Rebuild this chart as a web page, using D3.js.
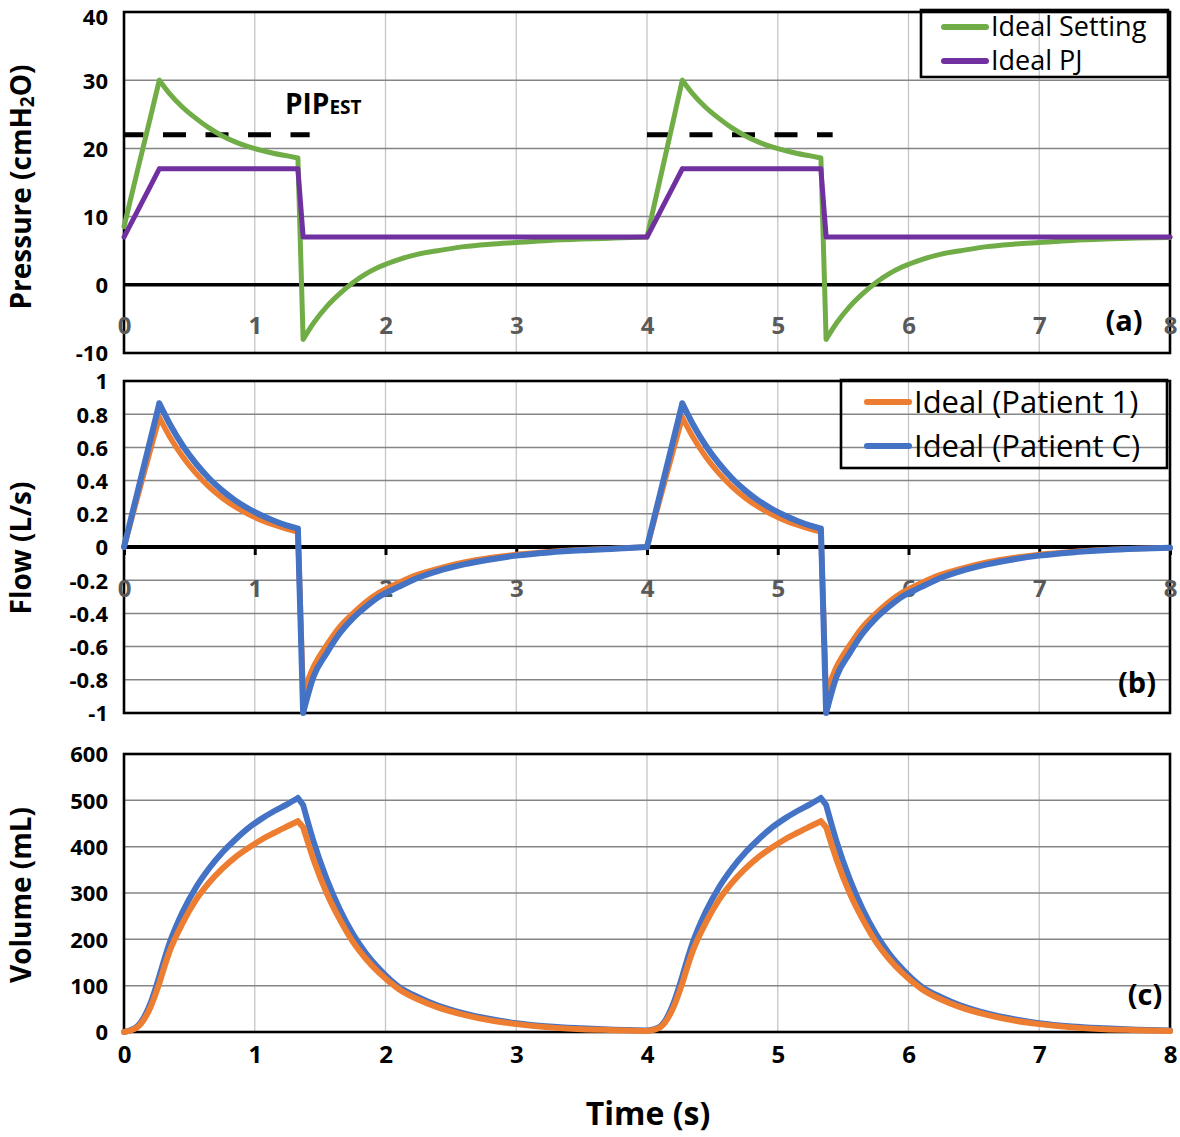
<!DOCTYPE html>
<html><head><meta charset="utf-8">
<script src="https://cdn.jsdelivr.net/npm/d3@7"></script>
<style>
body{margin:0;background:#fff;}
svg{display:block;font-family:"Open Sans",sans-serif;}
</style>
</head><body>
<svg id="chart" width="1180" height="1137"></svg>
<script>
// ---- data ----
const time = [0,0.1,0.2,0.27,0.35,0.45,0.55,0.65,0.75,0.85,0.95,1.05,1.15,1.25,1.33,1.37,1.45,1.55,1.65,1.75,1.85,1.95,2.1,2.25,2.4,2.6,2.8,3.0,3.25,3.5,3.75,
              4,4.1,4.2,4.27,4.35,4.45,4.55,4.65,4.75,4.85,4.95,5.05,5.15,5.25,5.33,5.37,5.45,5.55,5.65,5.75,5.85,5.95,6.1,6.25,6.4,6.6,6.8,7.0,7.25,7.5,7.75,
              8];
const pressureSetting = [8.5,16.5,24.4,30,28.0,26.0,24.4,23.0,21.85,20.95,20.25,19.7,19.25,18.9,18.6,-8,-5.6,-3.2,-1.3,0.3,1.6,2.6,3.7,4.5,5.0,5.6,5.95,6.2,6.5,6.7,6.85,
              7,15.5,24.0,30,28.0,26.0,24.4,23.0,21.85,20.95,20.25,19.7,19.25,18.9,18.6,-8,-5.6,-3.2,-1.3,0.3,1.6,2.6,3.7,4.5,5.0,5.6,5.95,6.2,6.5,6.7,6.85,
              6.95];
const pressurePJ = [7,10.7,14.4,17,17,17,17,17,17,17,17,17,17,17,17,7,7,7,7,7,7,7,7,7,7,7,7,7,7,7,7,
              7,10.7,14.4,17,17,17,17,17,17,17,17,17,17,17,17,7,7,7,7,7,7,7,7,7,7,7,7,7,7,7,7,
              7];
const flowPatient1 = [0,0.29,0.58,0.78,0.664,0.543,0.444,0.363,0.297,0.243,0.199,0.162,0.133,0.108,0.092,-0.88,-0.72,-0.59,-0.48,-0.40,-0.33,-0.275,-0.215,-0.165,-0.13,-0.092,-0.065,-0.045,-0.028,-0.017,-0.009,
              0,0.29,0.58,0.78,0.664,0.543,0.444,0.363,0.297,0.243,0.199,0.162,0.133,0.108,0.092,-0.88,-0.72,-0.59,-0.48,-0.40,-0.33,-0.275,-0.215,-0.165,-0.13,-0.092,-0.065,-0.045,-0.028,-0.017,-0.009,
              -0.004];
const flowPatientC = [0,0.32,0.64,0.865,0.741,0.61,0.503,0.414,0.341,0.281,0.232,0.191,0.157,0.129,0.111,-1.0,-0.78,-0.64,-0.52,-0.43,-0.36,-0.30,-0.24,-0.185,-0.145,-0.105,-0.075,-0.052,-0.033,-0.02,-0.011,
              0,0.32,0.64,0.865,0.741,0.61,0.503,0.414,0.341,0.281,0.232,0.191,0.157,0.129,0.111,-1.0,-0.78,-0.64,-0.52,-0.43,-0.36,-0.30,-0.24,-0.185,-0.145,-0.105,-0.075,-0.052,-0.033,-0.02,-0.011,
              -0.005];
const volumePatient1 = [0,10,52,105,175,236,285,322,352,377,397,415,430,444,455,442,372,300,243,195,158,128,93,70,53,37,25,17,10,6,4,
              2,10,52,105,175,236,285,322,352,377,397,415,430,444,455,442,372,300,243,195,158,128,93,70,53,37,25,17,10,6,4,
              2];
const volumePatientC = [0,12,60,120,193,260,312,353,387,415,440,460,477,492,505,490,411,330,265,212,170,137,98,75,57,40,28,19,12,8,5,
              3,12,60,120,193,260,312,353,387,415,440,460,477,492,505,490,411,330,265,212,170,137,98,75,57,40,28,19,12,8,5,
              3];
const pipEstValue = 22;
const pipEstStart = [0, 4];
const pipEstEnd = [1.42, 5.42];
const timeTicks = [0,1,2,3,4,5,6,7,8];
const pressureTicks = [-10,0,10,20,30,40];
const flowTicks = [-1,-0.8,-0.6,-0.4,-0.2,0,0.2,0.4,0.6,0.8,1];
const volumeTicks = [0,100,200,300,400,500,600];
// indices where the waveforms have corners (start of breath, peak, end of inspiration, drop)
const cornerIdx = [0,3,14,15,31,34,45,46,62];

// ---- layout ----
const svg = d3.select("#chart");
const X0 = 124, X1 = 1170;
const x = d3.scaleLinear().domain([0,8]).range([X0,X1]);
const yA = d3.scaleLinear().domain([-10,40]).range([353,12]);
const yB = d3.scaleLinear().domain([-1,1]).range([713,381]);
const yC = d3.scaleLinear().domain([0,600]).range([1032,754]);

const GREEN="#70AD47", PURPLE="#7030A0", ORANGE="#ED7D31", BLUE="#4472C4";

function grid(y, ticks, zeroBlack){
  const g = svg.append("g");
  g.selectAll("line.v").data(timeTicks.slice(1,-1)).join("line")
    .attr("x1",d=>x(d)).attr("x2",d=>x(d))
    .attr("y1",y.range()[1]).attr("y2",y.range()[0])
    .attr("stroke","#c6c6c6").attr("stroke-width",1.3);
  const d0 = y.domain();
  g.selectAll("line.h").data(ticks.filter(t=>t!==d0[0]&&t!==d0[1]&&!(zeroBlack&&t===0))).join("line")
    .attr("x1",X0).attr("x2",X1).attr("y1",d=>y(d)).attr("y2",d=>y(d))
    .attr("stroke","#858585").attr("stroke-width",1.5);
}
function frame(y){
  svg.append("rect").attr("x",X0).attr("y",y.range()[1])
    .attr("width",X1-X0).attr("height",y.range()[0]-y.range()[1])
    .attr("fill","none").attr("stroke","#000").attr("stroke-width",2.6);
}
function yAxis(y, ticks, fmt, topNudge){
  const g = svg.append("g").attr("transform",`translate(${X0},0)`)
    .call(d3.axisLeft(y).tickValues(ticks).tickSize(0).tickPadding(16).tickFormat(fmt));
  g.select(".domain").remove();
  const top = y.domain()[1];
  g.selectAll("text").attr("font-family","'Open Sans',sans-serif").attr("font-size",22)
    .attr("font-weight","bold").attr("fill","#000")
    .attr("dy",d=>(d===top && topNudge) ? "0.55em" : "0.36em");
}
function xAxis(baseY, color){
  const g = svg.append("g").attr("transform",`translate(0,${baseY})`)
    .call(d3.axisBottom(x).tickValues(timeTicks).tickSize(0).tickFormat(d=>String(d)));
  g.select(".domain").remove();
  g.selectAll("text").attr("y",0).attr("dy",0)
    .attr("font-family","'Open Sans',sans-serif").attr("font-size",24)
    .attr("font-weight","bold").attr("fill",color);
}
function series(y, values, color, width){
  const gen = d3.line().x(i=>x(time[i])).y(i=>y(values[i])).curve(d3.curveMonotoneX);
  let d = "";
  for(let k=0;k<cornerIdx.length-1;k++){
    d += gen(d3.range(cornerIdx[k], cornerIdx[k+1]+1));
  }
  svg.append("path").attr("d",d)
    .attr("fill","none").attr("stroke",color).attr("stroke-width",width)
    .attr("stroke-linejoin","round").attr("stroke-linecap","round");
}
function yTitle(cx, cy, build){
  const t = svg.append("text").attr("transform",`translate(${cx},${cy}) rotate(-90)`)
    .attr("text-anchor","middle").attr("font-size",28).attr("font-weight","bold").attr("fill","#000");
  build(t);
}
function panelLabel(txt, cx, by){
  svg.append("text").attr("x",cx).attr("y",by).attr("text-anchor","middle")
    .attr("font-size",29).attr("font-weight","bold").attr("fill","#000").text(txt);
}
function legend(box, items, fontSize){
  svg.append("rect").attr("x",box.x).attr("y",box.y).attr("width",box.w).attr("height",box.h)
    .attr("fill","none").attr("stroke","#000").attr("stroke-width",2.6);
  items.forEach(it=>{
    svg.append("line").attr("x1",box.lx0).attr("x2",box.lx1).attr("y1",it.y).attr("y2",it.y)
      .attr("stroke",it.color).attr("stroke-width",6).attr("stroke-linecap","round");
    svg.append("text").attr("x",box.tx).attr("y",it.base).attr("font-size",fontSize)
      .attr("fill","#000").text(it.label);
  });
}

// ---- panel (a) pressure ----
grid(yA, pressureTicks, true);
svg.append("line").attr("x1",X0).attr("x2",X1).attr("y1",yA(0)).attr("y2",yA(0))
  .attr("stroke","#000").attr("stroke-width",3.5);
frame(yA);
yAxis(yA, pressureTicks, d=>String(d), true);
xAxis(334, "#595959");
pipEstStart.forEach((s,i)=>{
  const dl = d3.line().x(d=>x(d[0])).y(d=>yA(d[1]));
  svg.append("path").datum([[s,pipEstValue],[pipEstEnd[i],pipEstValue]]).attr("d",dl)
    .attr("stroke","#000").attr("stroke-width",5).attr("fill","none")
    .attr("stroke-dasharray","23,19.5").attr("stroke-dashoffset",i===0?3.5:0);
});
series(yA, pressureSetting, GREEN, 5);
series(yA, pressurePJ, PURPLE, 5);
const pip = svg.append("text").attr("x",285).attr("y",114).attr("font-weight","bold").attr("fill","#000");
pip.append("tspan").attr("font-size",28).text("PIP");
pip.append("tspan").attr("font-size",19).text("EST");
legend({x:921,y:10,w:247,h:67,lx0:944,lx1:986,tx:991}, [
  {label:"Ideal Setting",color:GREEN,y:27,base:36},
  {label:"Ideal PJ",color:PURPLE,y:61,base:70}
], 27);
panelLabel("(a)", 1124, 331);

// ---- panel (b) flow ----
grid(yB, flowTicks, true);
svg.append("line").attr("x1",X0).attr("x2",X1).attr("y1",yB(0)).attr("y2",yB(0))
  .attr("stroke","#000").attr("stroke-width",4);
{
  const g = svg.append("g").attr("transform",`translate(0,${yB(0)})`)
    .call(d3.axisBottom(x).tickValues(timeTicks).tickSize(8).tickFormat(""));
  g.select(".domain").remove();
  g.selectAll("line").attr("stroke","#000").attr("stroke-width",3);
}
frame(yB);
yAxis(yB, flowTicks, d=>String(+d.toFixed(1)), false);
xAxis(597, "#595959");
series(yB, flowPatient1, ORANGE, 5.5);
series(yB, flowPatientC, BLUE, 6);
legend({x:841,y:380,w:326,h:88,lx0:867,lx1:909,tx:914}, [
  {label:"Ideal (Patient 1)",color:ORANGE,y:402,base:413},
  {label:"Ideal (Patient C)",color:BLUE,y:446,base:457}
], 31);
panelLabel("(b)", 1137, 693);

// ---- panel (c) volume ----
grid(yC, volumeTicks, false);
frame(yC);
yAxis(yC, volumeTicks, d=>String(d), false);
xAxis(1063, "#000");
series(yC, volumePatientC, BLUE, 6);
series(yC, volumePatient1, ORANGE, 6);
panelLabel("(c)", 1145, 1005);

// ---- titles ----
yTitle(31, 187, t=>{
  t.append("tspan").text("Pressure (cmH");
  t.append("tspan").attr("font-size",19).attr("dy",3).text("2");
  t.append("tspan").attr("dy",-3).text("O)");
});
yTitle(31, 548, t=>t.text("Flow (L/s)"));
yTitle(31, 895, t=>t.text("Volume (mL)"));
svg.append("text").attr("x",648).attr("y",1125).attr("text-anchor","middle")
  .attr("font-size",32).attr("font-weight","bold").attr("fill","#000").text("Time (s)");
</script>
</body></html>
